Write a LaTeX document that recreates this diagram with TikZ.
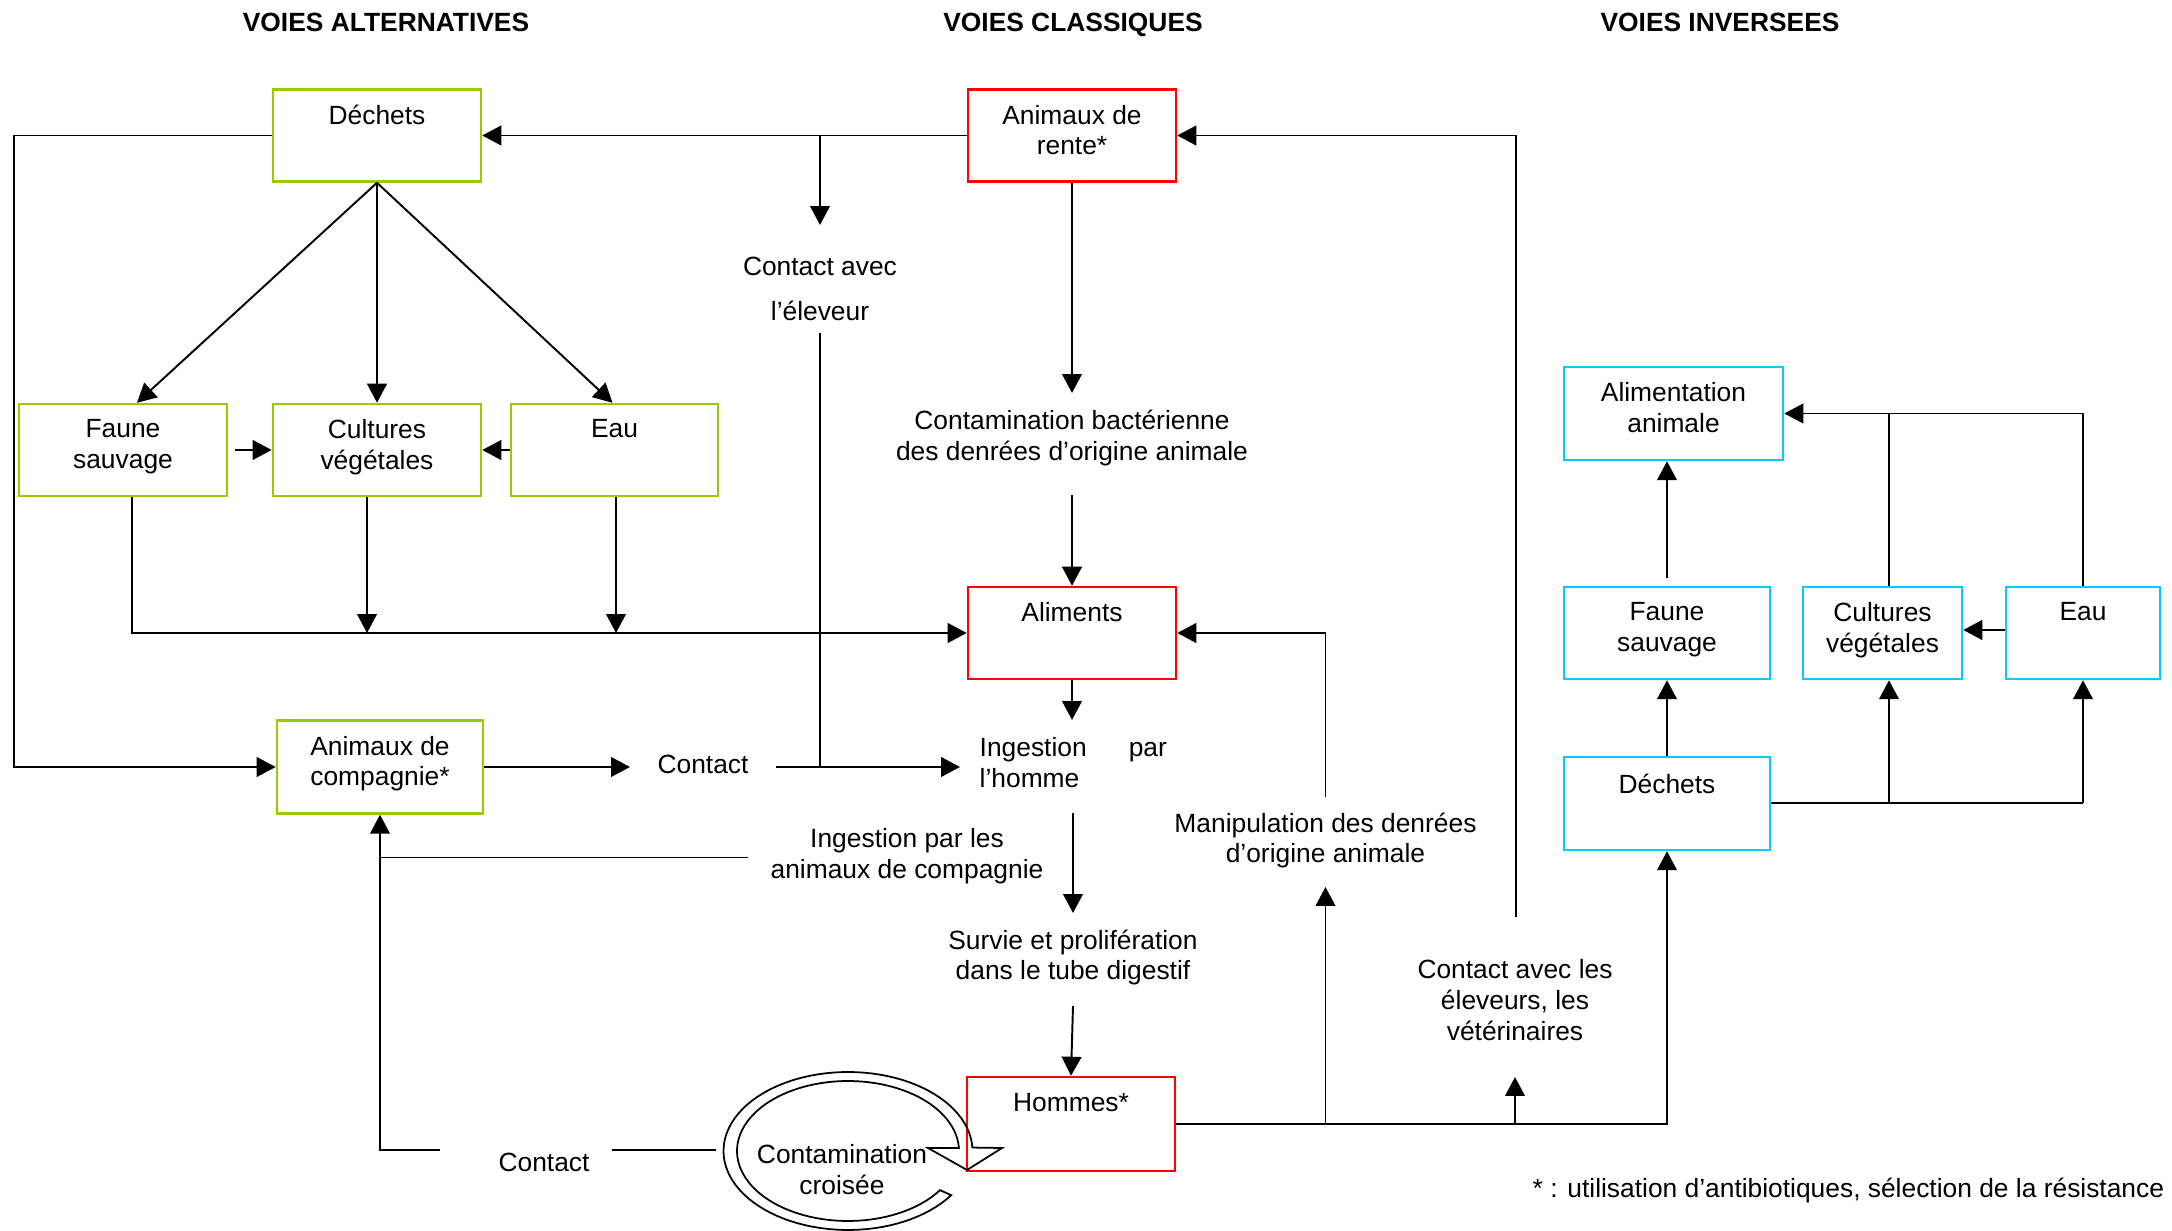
\documentclass[tikz,border=0pt]{standalone}
\usepackage{fontspec}
\setmainfont{Liberation Sans}
\usetikzlibrary{arrows.meta,calc}
\definecolor{cgreen}{HTML}{99CC00}
\definecolor{cred}{HTML}{FF0000}
\definecolor{cblue}{HTML}{00CCFF}
\begin{document}
\begin{tikzpicture}[x=0.01cm,y=-0.01cm,
  font=\fontsize{7.5}{8.7}\selectfont,
  ln/.style={line width=0.55pt},
  arr/.style={ln,-{Triangle[length=5.4pt,width=5.6pt]}},
  bx/.style={rectangle,inner sep=0pt,line width=0.7pt},
  gbox/.style={bx,draw=cgreen},
  rbox/.style={bx,draw=cred},
  bbox/.style={bx,draw=cblue},
  btxt/.style={anchor=north,inner sep=0pt,align=center},
  lbl/.style={anchor=north,inner sep=0pt,align=center},
  hdr/.style={anchor=north,inner sep=0pt,font=\fontsize{7.5}{8.7}\selectfont\bfseries}]
\useasboundingbox (0,0) rectangle (2172,1231);

% headers
\node[hdr] (h1) at (386,12) {VOIES ALTERNATIVES};
\node[hdr] (h2) at (1073,12) {VOIES CLASSIQUES};
\node[hdr] (h3) at (1720,12) {VOIES INVERSEES};

% green boxes
\node[gbox,minimum width=2.08cm,minimum height=0.92cm] (dechA) at (377,135.5) {};
\node[gbox,minimum width=2.08cm,minimum height=0.92cm] (fauneA) at (123,450) {};
\node[gbox,minimum width=2.08cm,minimum height=0.92cm] (cultA) at (377,450) {};
\node[gbox,minimum width=2.07cm,minimum height=0.92cm] (eauA) at (614.5,450) {};
\node[gbox,minimum width=2.06cm,minimum height=0.93cm] (compa) at (380,767) {};
% red boxes
\node[rbox,minimum width=2.08cm,minimum height=0.92cm] (rente) at (1072,135.5) {};
\node[rbox,minimum width=2.08cm,minimum height=0.92cm] (alim) at (1072,633) {};
\node[rbox,minimum width=2.08cm,minimum height=0.94cm] (hommes) at (1071,1124) {};
% blue boxes
\node[bbox,minimum width=2.19cm,minimum height=0.93cm] (alimAn) at (1673.5,413.5) {};
\node[bbox,minimum width=2.06cm,minimum height=0.92cm] (fauneI) at (1667,633) {};
\node[bbox,minimum width=1.59cm,minimum height=0.92cm] (cultI) at (1882.5,633) {};
\node[bbox,minimum width=1.54cm,minimum height=0.92cm] (eauI) at (2083,633) {};
\node[bbox,minimum width=2.06cm,minimum height=0.93cm] (dechI) at (1667,803.5) {};

% box texts
\node[btxt] (t-dechA) at ($(dechA.north)+(0,16)$) {Déchets};
\node[btxt] (t-fauneA) at ($(fauneA.north)+(0,16)$) {Faune\\sauvage};
\node[btxt] (t-cultA) at ($(cultA.north)+(0,16)$) {Cultures\\végétales};
\node[btxt] (t-eauA) at ($(eauA.north)+(0,16)$) {Eau};
\node[btxt] (t-compa) at ($(compa.north)+(0,16)$) {Animaux de\\compagnie*};
\node[btxt] (t-rente) at ($(rente.north)+(0,16)$) {Animaux de\\rente*};
\node[btxt] (t-alim) at ($(alim.north)+(0,16)$) {Aliments};
\node[btxt] (t-hommes) at ($(hommes.north)+(0,17)$) {Hommes*};
\node[btxt] (t-alimAn) at ($(alimAn.north)+(0,16)$) {Alimentation\\animale};
\node[btxt] (t-fauneI) at ($(fauneI.north)+(0,16)$) {Faune\\sauvage};
\node[btxt] (t-cultI) at ($(cultI.north)+(0,16)$) {Cultures\\végétales};
\node[btxt] (t-eauI) at ($(eauI.north)+(0,16)$) {Eau};
\node[btxt] (t-dechI) at ($(dechI.north)+(0,18)$) {Déchets};

% free labels
\node[lbl] (elev) at (820,256) {Contact avec\\[4.25pt]l’éleveur};
\node[lbl] (contam) at (1072,409.5) {Contamination bactérienne\\des denrées d’origine animale};
\node[anchor=north west,inner sep=0pt,align=left] (ingH) at (979,737) {Ingestion\hspace{0.42cm}par\\l’homme};
\node[lbl] (ct1) at (703,754) {Contact};
\node[lbl] (ingA) at (907,828) {Ingestion par les\\animaux de compagnie};
\node[lbl] (manip) at (1325.5,812) {Manipulation des denrées\\d’origine animale};
\node[lbl] (survie) at (1073,929) {Survie et prolifération\\dans le tube digestif};
\node[lbl] (vet) at (1515,959) {Contact avec les\\éleveurs, les\\vétérinaires};
\node[lbl] (ct2) at (544,1152) {Contact};
\node[lbl] (croise) at (842,1144) {Contamination\\croisée};
\node[anchor=north west,inner sep=0pt] (foot) at (1532,1177) {* : utilisation d’antibiotiques, sélection de la résistance};

% coordinates
\coordinate (jElev) at (820,135.5);
\coordinate (tElev) at (820,225);
\coordinate (cTopR) at (1516,135.5);
\coordinate (cVet) at (1516,917);
\coordinate (cL) at (14,767);
\coordinate (cF) at (132,633);
\coordinate (cC) at (367,633);
\coordinate (cE) at (616,633);
\coordinate (aC) at (1072,393);
\coordinate (aC2) at (1072,495);
\coordinate (aI) at (1072,720);
\coordinate (aS1) at (1073,813);
\coordinate (aS2) at (1073,913);
\coordinate (aH) at (1073,1006);
\coordinate (eD) at (820,333);
\coordinate (eJ) at (820,767);
\coordinate (cR) at (776,767);
\coordinate (aIng) at (960,767);
\coordinate (aCt) at (630,767);
\coordinate (ipa) at (748,857.5);
\coordinate (ipa2) at (380,857.5);
\coordinate (cb1) at (440,1150);
\coordinate (cb0) at (380,1150);
\coordinate (cb2) at (612,1150);
\coordinate (cb3) at (716,1150);
\coordinate (m1) at (1325.5,1123.5);
\coordinate (m2) at (1325.5,887);
\coordinate (m3) at (1325.5,797);
\coordinate (v1) at (1515,1123.5);
\coordinate (v2) at (1515,1077);
\coordinate (bC) at (1889,413.5);
\coordinate (bE) at (2083,413.5);
\coordinate (bCd) at (1889,803);
\coordinate (bEd) at (2083,803);

% top row
\draw[arr] (rente.west) -- (dechA.east);
\draw[arr] (jElev) -- (tElev);
\draw[arr] (cVet) -- (cTopR) -- (rente.east);
\draw[arr] (dechA.west) -| (cL) -- (compa.west);
% fan
\draw[arr] (dechA.south) -- ($(fauneA.north)+(14,0)$);
\draw[arr] (dechA.south) -- (cultA.north);
\draw[arr] (dechA.south) -- ($(eauA.north)+(-2,0)$);
\draw[arr,shorten <=0.07cm] (fauneA.east) -- (cultA.west);
\draw[arr] (eauA.west) -- (cultA.east);
\draw[arr] (fauneA.south -| cF) -- (cF) -- (alim.west);
\draw[arr] (cultA.south -| cC) -- (cC);
\draw[arr] (eauA.south -| cE) -- (cE);
% centre column
\draw[arr] (rente.south) -- (aC);
\draw[arr] (aC2) -- (alim.north);
\draw[arr] (alim.south) -- (aI);
\draw[arr] (aS1) -- (aS2);
\draw[arr] (aH) -- (hommes.north);
\draw[ln] (eD) -- (eJ);
\draw[arr] (cR) -- (aIng);
\draw[arr] (compa.east) -- (aCt);
\draw[ln] (ipa) -- (ipa2);
\draw[arr] (cb1) -- (cb0) -- (compa.south);
\draw[ln] (cb2) -- (cb3);
% from hommes
\draw[arr] (hommes.east) -| (dechI.south);
\draw[arr] (m1) -- (m2);
\draw[arr] (m3) |- (alim.east);
\draw[arr] (v1) -- (v2);
% blue part
\draw[arr] ($(fauneI.north)+(0,-8)$) -- (fauneI.north |- alimAn.south);
\draw[arr] (dechI.north) -- (fauneI.south);
\draw[ln] (cultI.north -| bC) -- (bC);
\draw[arr] (eauI.north -| bE) -- (bE) -- (alimAn.east);
\draw[arr] ($(eauI.west)+(0,-3)$) -- ($(cultI.east)+(0,-3)$);
\draw[ln] (dechI.east |- bEd) -- (bEd);
\draw[arr] (bCd) -- (cultI.south -| bCd);
\draw[arr] (bEd) -- (eauI.south -| bEd);

% cross-contamination swirl
\draw[line width=0.5pt,line join=miter]
  plot[domain=-34:-357.5,samples=90] ({848+124.5*cos(\x)},{1151-79*sin(\x)})
  -- (1002,1148) -- (967,1170) -- (928,1148)
  -- plot[domain=-357.5:-34,samples=90] ({848+111*cos(\x)},{1151-70*sin(\x)})
  -- cycle;
\end{tikzpicture}
\end{document}
